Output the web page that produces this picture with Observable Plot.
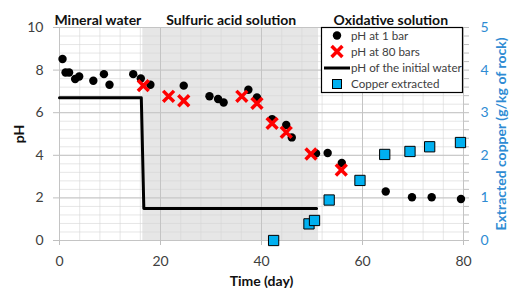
<!DOCTYPE html>
<html>
<head>
<meta charset="utf-8">
<script src="https://cdn.jsdelivr.net/npm/d3@7"></script>
<script src="https://cdn.jsdelivr.net/npm/@observablehq/plot@0.6"></script>
<style>
  body { margin: 0; background: #fff; }
  #chart { position: relative; width: 516px; height: 288px; }
</style>
</head>
<body>
<div id="chart"></div>
<script>
// pH at 1 bar
const ph1Day = [0.6, 1.2, 1.9, 3.1, 3.9, 6.7, 8.8, 9.9, 14.6, 16.1, 18.0, 24.6, 29.7, 31.4, 32.5, 37.4, 39.1, 42.1, 44.9, 46.0, 50.8, 53.1, 55.9, 64.6, 69.8, 73.7, 79.5];
const ph1Val = [8.52, 7.89, 7.89, 7.58, 7.70, 7.50, 7.81, 7.31, 7.81, 7.61, 7.31, 7.27, 6.77, 6.64, 6.48, 7.08, 6.72, 5.70, 5.42, 4.84, 4.09, 4.11, 3.64, 2.30, 2.03, 2.03, 1.95];
// pH at 80 bars
const ph80Day = [16.6, 21.6, 24.6, 36.1, 39.1, 42.1, 44.9, 49.8, 55.8];
const ph80Val = [7.27, 6.77, 6.56, 6.77, 6.44, 5.50, 5.08, 4.06, 3.31];
// pH of the initial water
const initDay = [0, 16.2, 16.7, 50.9];
const initVal = [6.7, 6.7, 1.5, 1.5];
// Copper extracted (g/kg of rock)
const cuDay = [42.4, 49.4, 50.5, 53.4, 59.5, 64.4, 69.4, 73.3, 79.4];
const cuVal = [0, 0.39, 0.47, 0.95, 1.41, 2.02, 2.09, 2.20, 2.30];
// Phases
const phaseLabel = ["Mineral water", "Sulfuric acid solution", "Oxidative solution"];
const phaseStart = [0, 16.5, 51.3];
const phaseEnd = [16.5, 51.3, 80];
const phaseLabelX = [7.6, 34, 65.6];
// Axis ticks
const xTicks = [0, 20, 40, 60, 80];
const yTicks = [0, 2, 4, 6, 8, 10];
const cuTicks = [0, 1, 2, 3, 4, 5];
// Legend labels
const legendLabels = ["pH at 1 bar", "pH at 80 bars", "pH of the initial water", "Copper extracted"];

const blue = "#2E8BD3";
const ph1 = ph1Day.map((d, i) => ({day: d, ph: ph1Val[i]}));
const ph80 = ph80Day.map((d, i) => ({day: d, ph: ph80Val[i]}));
const init = initDay.map((d, i) => ({day: d, ph: initVal[i]}));
const cu = cuDay.map((d, i) => ({day: d, cu: cuVal[i]}));
const phases = phaseLabel.map((l, i) => ({label: l, x1: phaseStart[i], x2: phaseEnd[i], lx: phaseLabelX[i]}));

const minorY = d3.range(0, 10.001, 0.4);
const minorX = d3.range(0, 80.001, 4);
const cuMinor = d3.range(0, 5.001, 0.2);

const plot = Plot.plot({
  width: 516,
  height: 288,
  marginLeft: 59,
  marginRight: 53,
  marginTop: 27,
  marginBottom: 48,
  style: {fontFamily: "Lato, sans-serif", fontSize: "14px", color: "#404040", background: "white"},
  x: {domain: [0, 80]},
  y: {domain: [0, 10]},
  marks: [
    Plot.rect(phases.filter((d, i) => i === 1), {x1: "x1", x2: "x2", y1: 0, y2: 10, fill: "#e6e6e6"}),
    Plot.ruleY(minorY, {stroke: "#d6d6d6", strokeOpacity: 0.6}),
    Plot.ruleX(minorX, {stroke: "#d6d6d6", strokeOpacity: 0.6}),
    Plot.ruleY(yTicks, {stroke: "#c4c4c4"}),
    Plot.ruleX(xTicks, {stroke: "#c4c4c4"}),
    Plot.axisX({ticks: xTicks, tickSize: 5, tickPadding: 11, stroke: "#bfbfbf", fill: "#404040",
      label: "Time (day)", labelAnchor: "center", labelArrow: "none", labelOffset: 45}),
    Plot.axisY({anchor: "left", ticks: yTicks, tickSize: 6, tickPadding: 10, stroke: "#bfbfbf", fill: "#404040",
      label: "pH", labelAnchor: "center", labelArrow: "none", labelOffset: 45}),
    Plot.axisY({anchor: "right", ticks: cuMinor.map(v => v * 2), tickSize: 5, tickPadding: 12, stroke: "#bfbfbf", fill: blue,
      tickFormat: v => (cuTicks.includes(Math.round(v / 2 * 1000) / 1000) ? String(Math.round(v / 2)) : ""),
      label: "Extracted copper (g/kg of rock)", labelAnchor: "center", labelArrow: "none", labelOffset: 42}),
    Plot.text(phases, {x: "lx", text: "label", frameAnchor: "top", dy: -12, fontWeight: "bold", fontSize: 14, fill: "#111"}),
    Plot.line(init, {x: "day", y: "ph", stroke: "black", strokeWidth: 3}),
    Plot.dot(ph1, {x: "day", y: "ph", r: 4.2, fill: "black"}),
    Plot.dot(ph80, {x: "day", y: "ph", symbol: "times", r: 5, stroke: "#ff0000", strokeWidth: 3.5}),
    Plot.dot(cu, {x: "day", y: d => d.cu * 2, symbol: "square", r: 5.8, fill: "#00B0F0", stroke: "black", strokeWidth: 1})
  ]
});

const svg = d3.select(plot);
svg.selectAll('[aria-label="x-axis label"], [aria-label="y-axis label"]').attr("font-weight", "bold");
svg.select('[aria-label="x-axis label"]').attr("fill", "#111");
svg.selectAll('[aria-label="y-axis label"]').each(function(d, i) {
  d3.select(this).attr("fill", i === 0 ? "#111" : blue);
});

// Legend
const lg = svg.append("g").attr("font-family", "Lato, sans-serif").attr("font-size", 11.6).attr("text-anchor", "start");
lg.append("rect").attr("x", 321.5).attr("y", 27.5).attr("width", 141).attr("height", 65)
  .attr("fill", "white").attr("stroke", "black").attr("stroke-width", 1.2);
const rowY = [35.5, 51.5, 68, 84];
const symX = 337;
lg.append("circle").attr("cx", symX).attr("cy", rowY[0]).attr("r", 4.2).attr("fill", "black");
lg.append("path").attr("d", d3.symbol(d3.symbolTimes, 78)()).attr("transform", `translate(${symX},${rowY[1]})`)
  .attr("stroke", "#ff0000").attr("stroke-width", 3.5).attr("fill", "none");
lg.append("line").attr("x1", 324).attr("x2", 350).attr("y1", rowY[2]).attr("y2", rowY[2]).attr("stroke", "black").attr("stroke-width", 3);
lg.append("rect").attr("x", symX - 4.5).attr("y", rowY[3] - 4.5).attr("width", 9).attr("height", 9)
  .attr("fill", "#00B0F0").attr("stroke", "black");
legendLabels.forEach((t, i) => {
  lg.append("text").attr("x", 351).attr("y", rowY[i]).attr("dy", "0.35em").attr("text-anchor", "start").attr("fill", "#404040").text(t);
});

document.getElementById("chart").appendChild(plot);
</script>
</body>
</html>
